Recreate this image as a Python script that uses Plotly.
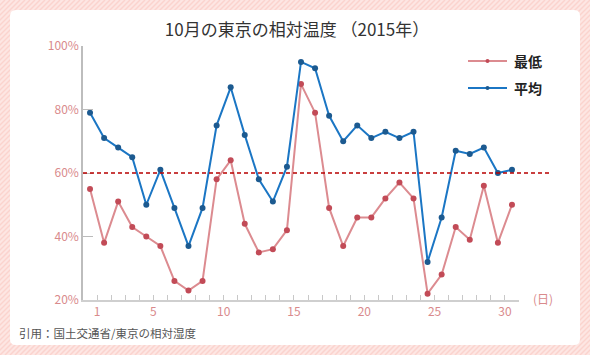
import plotly.graph_objects as go

# ---- data ----
days = list(range(1, 32))
avg_humidity = [79, 71, 68, 65, 50, 61, 49, 37, 49, 75, 87, 72, 58, 51, 62, 95, 93, 78,
                70, 75, 71, 73, 71, 73, 32, 46, 67, 66, 68, 60, 61]
min_humidity = [55, 38, 51, 43, 40, 37, 26, 23, 26, 58, 64, 44, 35, 36, 42, 88, 79, 49,
                37, 46, 46, 52, 57, 52, 22, 28, 43, 39, 56, 38, 50]
x_tick_days = [1, 5, 10, 15, 20, 25, 30]
y_ticks = [20, 40, 60, 80, 100]
reference_level = 60

title = "10月の東京の相対温度 （2015年）"
series_names = ["最低", "平均"]
source_text = "引用：国土交通省/東京の相対湿度"
x_unit = "(日)"

# ---- geometry ----
W, H = 590, 355
L, R, T, B = 83, 71, 46, 55
PW, PH = W - L - R, H - T - B


def px2x(X):
    return (X - L) / PW


def px2y(Y):
    return (H - B - Y) / PH


RED_LINE = "#dc8b90"
RED_MK = "#c24b57"
BLUE_LINE = "#1b76c4"
BLUE_MK = "#1c5a90"
PINK_TXT = "#d98a8c"
FONT = "Noto Sans CJK JP"

fig = go.Figure()
fig.add_trace(go.Scatter(x=days, y=min_humidity, mode="lines+markers", name=series_names[0],
                         line=dict(color=RED_LINE, width=2),
                         marker=dict(color=RED_MK, size=6), showlegend=False))
fig.add_trace(go.Scatter(x=days, y=avg_humidity, mode="lines+markers", name=series_names[1],
                         line=dict(color=BLUE_LINE, width=2),
                         marker=dict(color=BLUE_MK, size=6), showlegend=False))

shapes = []
# striped background
step = 5
for k in range(-H, W + H, step):
    shapes.append(dict(type="line", xref="paper", yref="paper", layer="below",
                       x0=px2x(k), y0=px2y(H), x1=px2x(k + H), y1=px2y(0),
                       line=dict(color="#fbd3ce", width=1.5)))
# white card with rounded corners
x0, x1, y0, y1, r = 10, 580, 10, 345, 6
def P(X, Y):
    return f"{px2x(X):.5f},{px2y(Y):.5f}"
path = (f"M {P(x0 + r, y0)} L {P(x1 - r, y0)} Q {P(x1, y0)} {P(x1, y0 + r)} "
        f"L {P(x1, y1 - r)} Q {P(x1, y1)} {P(x1 - r, y1)} L {P(x0 + r, y1)} "
        f"Q {P(x0, y1)} {P(x0, y1 - r)} L {P(x0, y0 + r)} Q {P(x0, y0)} {P(x0 + r, y0)} Z")
shapes.append(dict(type="path", xref="paper", yref="paper", layer="below", path=path,
                   fillcolor="white", line=dict(width=0)))
# dashed reference line
shapes.append(dict(type="line", xref="paper", yref="y", x0=0, x1=px2x(552),
                   y0=reference_level, y1=reference_level,
                   line=dict(color="#b80000", width=1.4, dash="4px,3px")))
# custom legend
for i, (lc, mc) in enumerate([(RED_LINE, RED_MK), (BLUE_LINE, BLUE_MK)]):
    Y = 61 + i * 27
    shapes.append(dict(type="line", xref="paper", yref="paper",
                       x0=px2x(468), x1=px2x(507), y0=px2y(Y), y1=px2y(Y),
                       line=dict(color=lc, width=2)))
    shapes.append(dict(type="circle", xref="paper", yref="paper",
                       x0=px2x(485.5), x1=px2x(489.5), y0=px2y(Y - 2), y1=px2y(Y + 2),
                       fillcolor=mc, line=dict(width=0)))

annotations = []
for i, name in enumerate(series_names):
    annotations.append(dict(xref="paper", yref="paper", x=px2x(512), y=px2y(61 + i * 27),
                            xanchor="left", yanchor="middle", showarrow=False,
                            text=f"<b>{name}</b>", font=dict(size=14, color="#222", family=FONT)))
annotations.append(dict(xref="paper", yref="paper", x=px2x(531), y=px2y(298),
                        xanchor="left", yanchor="middle", showarrow=False, text=x_unit,
                        font=dict(size=12, color=PINK_TXT, family=FONT)))
annotations.append(dict(xref="paper", yref="paper", x=px2x(17), y=px2y(333),
                        xanchor="left", yanchor="middle", showarrow=False, text=source_text,
                        font=dict(size=11.5, color="#555", family=FONT)))

# x ticks at band boundaries; labels only at selected days
x_tickvals = [d + 0.5 for d in range(0, 32)]
x_ticktext = [str(int(v - 0.5)) if int(v - 0.5) in x_tick_days else "" for v in x_tickvals]

fig.update_layout(
    width=W, height=H,
    margin=dict(l=L, r=R, t=T, b=B),
    paper_bgcolor="#fde6e3", plot_bgcolor="rgba(0,0,0,0)",
    title=dict(text=title, x=297 / W, xanchor="center", xref="container", y=1 - 30 / H,
               yref="container", yanchor="middle",
               font=dict(size=17, color="#333", family=FONT)),
    xaxis=dict(range=[0.5, 31.5], tickvals=x_tickvals, ticktext=x_ticktext,
               ticks="inside", ticklen=5, tickwidth=1, tickcolor="#c8c8c8",
               showline=True, linecolor="#cfcfcf", linewidth=2,
               showgrid=False, zeroline=False,
               tickfont=dict(size=12, color=PINK_TXT, family=FONT)),
    yaxis=dict(range=[20, 100], tickvals=y_ticks, ticktext=[f"{v}%" for v in y_ticks],
               ticks="inside", ticklen=10, tickwidth=1, tickcolor="#bbbbbb",
               showline=True, linecolor="#bdbdbd", linewidth=1.5,
               showgrid=False, zeroline=False,
               tickfont=dict(size=12, color=PINK_TXT, family=FONT)),
    shapes=shapes, annotations=annotations,
)

fig.write_html("out.html", config={"displayModeBar": False},
               post_script="document.body.style.margin='0';document.body.style.overflow='hidden';")
